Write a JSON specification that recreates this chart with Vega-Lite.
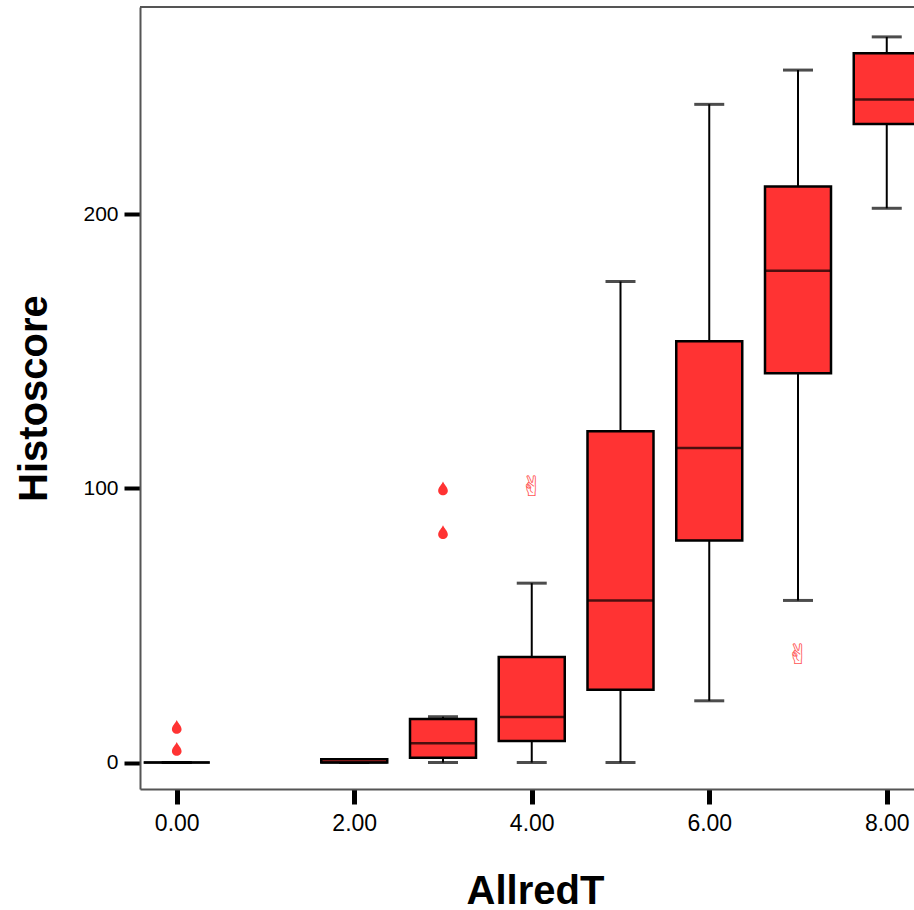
{
  "$schema": "https://vega.github.io/schema/vega-lite/v6.json",
  "autosize": "none",
  "width": 774,
  "height": 782,
  "padding": {"left": 140, "top": 7, "right": 0, "bottom": 121},
  "background": "white",
  "config": {
    "view": {"stroke": null},
    "axis": {"labelFont": "Liberation Sans", "titleFont": "Liberation Sans", "grid": false}
  },
  "datasets": {
    "boxes": [
      {"AllredT": 0, "lower": 0, "q1": 0, "median": 0, "q3": 0, "upper": 0},
      {"AllredT": 2, "lower": 0, "q1": 0, "median": 0, "q3": 1.2, "upper": 0},
      {"AllredT": 3, "lower": 0, "q1": 1.7, "median": 7, "q3": 15.9, "upper": 16.7},
      {"AllredT": 4, "lower": 0, "q1": 7.8, "median": 16.6, "q3": 38.5, "upper": 65.4},
      {"AllredT": 5, "lower": 0, "q1": 26.5, "median": 59.1, "q3": 120.8, "upper": 175.4},
      {"AllredT": 6, "lower": 22.5, "q1": 81, "median": 114.7, "q3": 153.6, "upper": 240},
      {"AllredT": 7, "lower": 59.1, "q1": 141.9, "median": 179.3, "q3": 210, "upper": 252.5},
      {"AllredT": 8, "lower": 202.1, "q1": 232.8, "median": 241.8, "q3": 258.6, "upper": 264.6}
    ],
    "outliers": [
      {"AllredT": 0, "Histoscore": 5},
      {"AllredT": 0, "Histoscore": 13},
      {"AllredT": 3, "Histoscore": 84},
      {"AllredT": 3, "Histoscore": 100}
    ],
    "extremes": [
      {"AllredT": 4, "Histoscore": 100},
      {"AllredT": 7, "Histoscore": 39}
    ],
    "frame": [
      {"edge": "top"}
    ]
  },
  "layer": [
    {
      "data": {"name": "boxes"},
      "mark": {"type": "rule", "stroke": "black", "strokeWidth": 2},
      "encoding": {
        "x": {
          "field": "AllredT", "type": "quantitative",
          "scale": {"domain": [-0.414, 8.307], "nice": false, "zero": false, "padding": 0},
          "axis": {
            "orient": "bottom", "values": [0, 2, 4, 6, 8], "format": ".2f",
            "title": "AllredT", "titleFontSize": 40, "titleFontWeight": "bold", "titleColor": "black",
            "titleX": 395, "titleY": 114, "titleBaseline": "alphabetic", "titleAlign": "center",
            "domainColor": "#555555", "domainWidth": 2,
            "tickColor": "black", "tickWidth": 5, "tickSize": 15,
            "labelFontSize": 23, "labelColor": "black", "labelPadding": 8
          }
        },
        "y": {
          "field": "lower", "type": "quantitative",
          "scale": {"domain": [-9.66, 275.5], "nice": false, "zero": false, "padding": 0},
          "axis": {
            "values": [0, 100, 200],
            "title": "Histoscore", "titleFontSize": 40, "titleFontWeight": "bold", "titleColor": "black",
            "titleAngle": 270, "titleX": -94, "titleY": 391, "titleBaseline": "alphabetic", "titleAlign": "center",
            "domainColor": "#555555", "domainWidth": 2,
            "tickColor": "black", "tickWidth": 4, "tickSize": 16,
            "labelFontSize": 21, "labelColor": "black", "labelPadding": 6
          }
        },
        "y2": {"field": "upper"}
      }
    },
    {
      "data": {"name": "frame"},
      "mark": {"type": "rule", "stroke": "#555555", "strokeWidth": 2},
      "encoding": {
        "y": {"datum": 275.5, "type": "quantitative"}
      }
    },
    {
      "data": {"name": "boxes"},
      "mark": {"type": "tick", "orient": "horizontal", "size": 30, "thickness": 3, "color": "black"},
      "encoding": {
        "x": {"field": "AllredT", "type": "quantitative"},
        "y": {"field": "lower", "type": "quantitative"}
      }
    },
    {
      "data": {"name": "boxes"},
      "mark": {"type": "tick", "orient": "horizontal", "size": 30, "thickness": 3, "color": "black"},
      "encoding": {
        "x": {"field": "AllredT", "type": "quantitative"},
        "y": {"field": "upper", "type": "quantitative"}
      }
    },
    {
      "data": {"name": "boxes"},
      "mark": {"type": "bar", "size": 66, "fill": "#ff3333", "stroke": "black", "strokeWidth": 2.5, "cornerRadius": 0},
      "encoding": {
        "x": {"field": "AllredT", "type": "quantitative"},
        "y": {"field": "q1", "type": "quantitative"},
        "y2": {"field": "q3"}
      }
    },
    {
      "data": {"name": "boxes"},
      "mark": {"type": "tick", "orient": "horizontal", "size": 66, "thickness": 2.5, "color": "black"},
      "encoding": {
        "x": {"field": "AllredT", "type": "quantitative"},
        "y": {"field": "median", "type": "quantitative"}
      }
    },
    {
      "data": {"name": "outliers"},
      "mark": {"type": "point", "filled": true, "opacity": 1, "color": "#ff3333", "size": 190,
        "shape": "M0,-1 C0.15,-0.6 0.7,-0.15 0.7,0.35 A0.7,0.65 0 1,1 -0.7,0.35 C-0.7,-0.15 -0.15,-0.6 0,-1 Z"},
      "encoding": {
        "x": {"field": "AllredT", "type": "quantitative"},
        "y": {"field": "Histoscore", "type": "quantitative"}
      }
    },
    {
      "data": {"name": "extremes"},
      "mark": {"type": "text", "text": "✌", "font": "DejaVu Sans", "fontSize": 28, "color": "#ff5555", "baseline": "middle", "align": "center"},
      "encoding": {
        "x": {"field": "AllredT", "type": "quantitative"},
        "y": {"field": "Histoscore", "type": "quantitative"}
      }
    }
  ]
}
